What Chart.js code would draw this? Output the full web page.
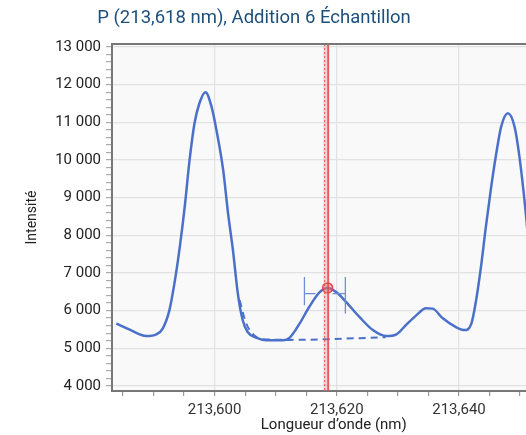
<!DOCTYPE html>
<html>
<head>
<meta charset="utf-8">
<script src="https://cdn.jsdelivr.net/npm/chart.js@4"></script>
<style>
  html, body { margin: 0; padding: 0; background: #fff; }
  #wrap { width: 526px; height: 435px; overflow: hidden; position: relative; }
  canvas { display: block; }
</style>
</head>
<body>
<div id="wrap"><canvas id="spectrumChart" width="562" height="435"></canvas></div>
<script>
// spectrum
const wavelength = [
  213.5839, 213.5861, 213.5888, 213.5905, 213.5915, 213.5926, 213.5935, 213.5943, 213.5951, 213.5959,
  213.5967, 213.5975, 213.5985, 213.5995, 213.6003, 213.6014, 213.6022, 213.6030, 213.6038, 213.6046,
  213.6054, 213.6068, 213.6085, 213.6112, 213.6123, 213.6139, 213.6155, 213.6172, 213.6185, 213.6199,
  213.6215, 213.6237, 213.6259, 213.6281, 213.6297, 213.6313, 213.6330, 213.6346, 213.6357, 213.6373,
  213.6395, 213.6409, 213.6420, 213.6428, 213.6436, 213.6444, 213.6452, 213.6461, 213.6469, 213.6480,
  213.6491, 213.6499, 213.6509, 213.6518, 213.6531, 213.6545, 213.6561
];
const intensity = [
  5650, 5490, 5320, 5370, 5520, 6010, 6800, 7690, 8750, 10000,
  10970, 11500, 11800, 11410, 10790, 9730, 8580, 7600, 6450, 5740,
  5430, 5280, 5210, 5210, 5280, 5650, 6100, 6490, 6600, 6490,
  6230, 5830, 5480, 5320, 5360, 5610, 5870, 6060, 6050, 5800,
  5560, 5480, 5640, 6270, 7160, 8220, 9200, 10170, 10880, 11240,
  10880, 10080, 8650, 7070, 5740, 5320, 5260
];

// fitted background (dashed)
const baseWavelength = [213.6041, 213.6051, 213.6061, 213.6077, 213.6123, 213.6280];
const baseIntensity  = [6270, 5690, 5400, 5240, 5220, 5290];

// peak marker and width bars
const peakWavelength = 213.6185;
const peakIntensity = 6600;
const markerWavelength = 213.618;
const widthLeft = 213.6147, widthRight = 213.6214;
const widthInnerLeft = 213.6165, widthInnerRight = 213.6193;
const widthLevel = 6450;
const capTop = 6890, capBottomLeft = 6140, capBottomRight = 5920;

const yTicks = [4000, 5000, 6000, 7000, 8000, 9000, 10000, 11000, 12000, 13000];
const xTicks = [213.600, 213.620, 213.640];

const spectrum = wavelength.map((w, i) => ({ x: w, y: intensity[i] }));
const baseline = baseWavelength.map((w, i) => ({ x: w, y: baseIntensity[i] }));
const widthBars = [
  { x: widthLeft, y: capTop }, { x: widthLeft, y: capBottomLeft }, { x: widthLeft, y: null },
  { x: widthLeft, y: widthLevel }, { x: widthInnerLeft, y: widthLevel }, { x: widthInnerLeft, y: null },
  { x: widthInnerRight, y: widthLevel }, { x: widthRight, y: widthLevel }, { x: widthRight, y: null },
  { x: widthRight, y: capTop }, { x: widthRight, y: capBottomRight }
];

const blue = '#4a70c9';
const fmtThousands = v => String(Math.round(v)).replace(/\B(?=(\d{3})+(?!\d))/g, ' ');
const isMajorX = v => xTicks.some(t => Math.abs(t - v) < 1e-7);

const frame = {
  id: 'frame',
  beforeDraw(chart) {
    const { ctx, chartArea: a } = chart;
    ctx.save();
    ctx.fillStyle = '#f9f9f9';
    ctx.fillRect(a.left, a.top, a.right - a.left, a.bottom - a.top);
    ctx.restore();
  },
  afterDatasetsDraw(chart) {
    const { ctx, chartArea: a } = chart;
    const px = chart.scales.x.getPixelForValue(markerWavelength);
    ctx.save();
    ctx.fillStyle = 'rgba(240,120,120,0.30)';
    ctx.fillRect(px - 1, a.top, 6, a.bottom - a.top);
    ctx.strokeStyle = 'rgba(225,80,80,0.8)';
    ctx.lineWidth = 1.2;
    ctx.setLineDash([2, 2]);
    ctx.beginPath(); ctx.moveTo(px, a.top); ctx.lineTo(px, a.bottom); ctx.stroke();
    ctx.setLineDash([]);
    ctx.strokeStyle = '#e04848';
    ctx.lineWidth = 1.5;
    ctx.beginPath(); ctx.moveTo(px + 3.5, a.top); ctx.lineTo(px + 3.5, a.bottom); ctx.stroke();
    // top frame line
    ctx.strokeStyle = '#777';
    ctx.lineWidth = 2;
    ctx.beginPath(); ctx.moveTo(a.left, a.top); ctx.lineTo(a.right, a.top); ctx.stroke();
    // title
    ctx.fillStyle = '#1d4f7c';
    ctx.font = '18.5px Roboto';
    ctx.textAlign = 'center';
    ctx.textBaseline = 'middle';
    ctx.fillText('P (213,618 nm), Addition 6 Échantillon', 254, 18);
    ctx.restore();
  }
};

new Chart(document.getElementById('spectrumChart').getContext('2d'), {
  type: 'line',
  data: {
    datasets: [
      { data: spectrum, borderColor: blue, borderWidth: 2.5, pointRadius: 0,
        cubicInterpolationMode: 'monotone', order: 2 },
      { data: baseline, borderColor: blue, borderWidth: 2, borderDash: [7, 5], pointRadius: 0,
        cubicInterpolationMode: 'monotone', order: 3 },
      { data: widthBars, borderColor: '#6d8fd6', borderWidth: 1.3, pointRadius: 0,
        spanGaps: false, tension: 0, order: 1 },
      { data: [{ x: peakWavelength, y: peakIntensity }], showLine: false, pointRadius: 5,
        pointBackgroundColor: 'rgba(240,110,110,0.45)', pointBorderColor: '#e04848',
        pointBorderWidth: 1.5, order: 0 }
    ]
  },
  options: {
    responsive: false,
    animation: false,
    devicePixelRatio: 1,
    layout: { padding: { top: 44, left: 0, right: 0, bottom: 0 } },
    plugins: { legend: { display: false }, tooltip: { enabled: false }, title: { display: false } },
    scales: {
      x: {
        type: 'linear',
        min: 213.5832,
        max: 213.6558,
        afterFit(s) { s.height = 44; },
        afterBuildTicks(s) {
          const t = [];
          for (let v = 213.585; v < 213.656; v += 0.005) t.push({ value: Math.round(v * 1000) / 1000 });
          s.ticks = t;
        },
        border: { color: '#777', width: 2 },
        grid: {
          color: c => (c.tick && isMajorX(c.tick.value)) ? '#e2e2e2' : 'rgba(0,0,0,0)',
          tickColor: '#999', tickLength: 5, lineWidth: 1.2
        },
        ticks: {
          autoSkip: false, maxRotation: 0, padding: 5, color: '#333',
          font: { family: 'Roboto', size: 15 },
          callback: v => isMajorX(v) ? v.toFixed(3).replace('.', ',') : ''
        },
        title: { display: true, text: 'Longueur d’onde (nm)', color: '#222',
          font: { family: 'Roboto', size: 15 }, padding: { top: 0, bottom: 1 } }
      },
      y: {
        min: 3862,
        max: 13080,
        afterFit(s) { s.width = 112; },
        afterBuildTicks(s) {
          const t = [];
          for (let v = 4000; v <= 13000; v += 200) t.push({ value: v });
          s.ticks = t;
        },
        border: { color: '#777', width: 2 },
        grid: {
          color: c => (c.tick && yTicks.includes(c.tick.value)) ? '#e2e2e2' : 'rgba(0,0,0,0)',
          tickColor: '#aaa', tickLength: 6, lineWidth: 1.2
        },
        ticks: {
          autoSkip: false, padding: 5, color: '#222',
          font: { family: 'Roboto', size: 15 },
          callback: v => yTicks.includes(v) ? fmtThousands(v) : ''
        },
        title: { display: true, text: 'Intensité', color: '#222',
          font: { family: 'Roboto', size: 14 }, padding: { top: 24, bottom: 0 } }
      }
    }
  },
  plugins: [frame]
});
</script>
</body>
</html>
